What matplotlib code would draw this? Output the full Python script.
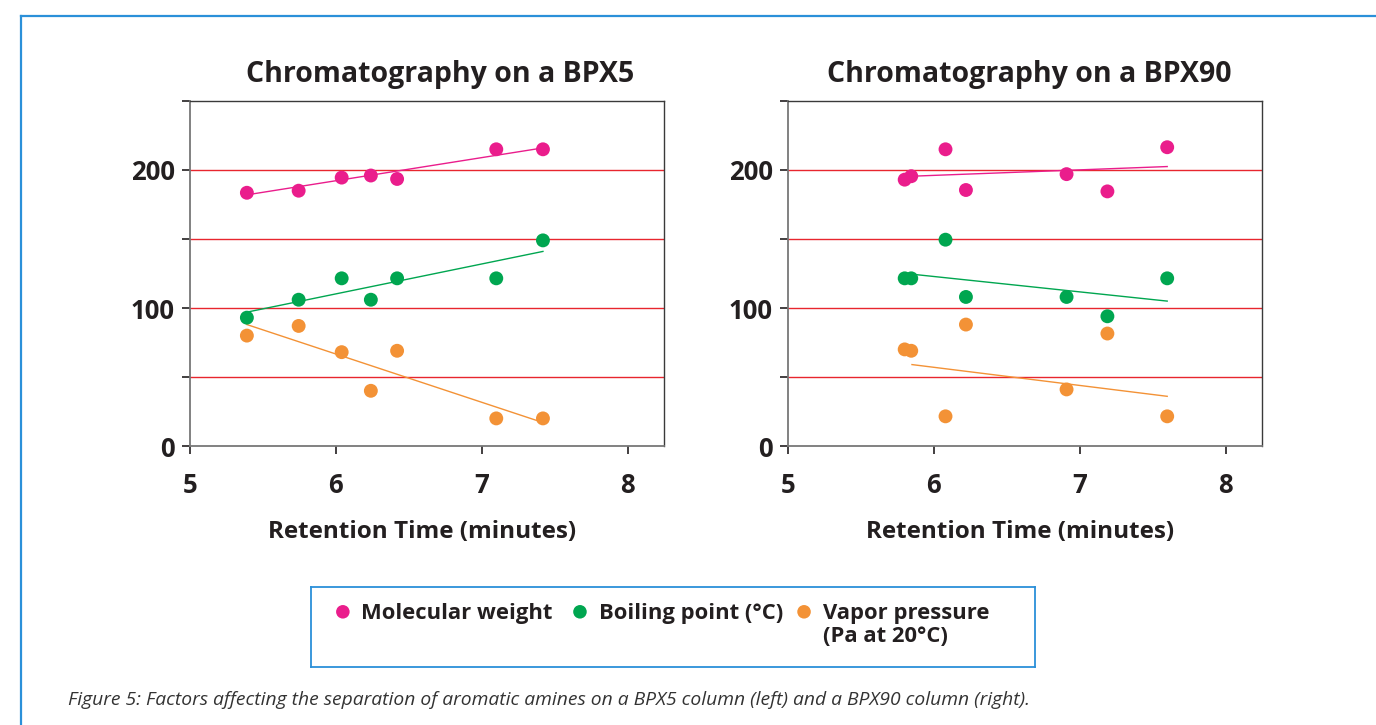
import matplotlib.pyplot as plt
from matplotlib.lines import Line2D

# retention times (minutes) and the three properties
bpx5_time = [5.39, 5.745, 6.04, 6.24, 6.42, 7.10, 7.42]
bpx5_mw = [183.5, 185, 194.5, 196, 193.5, 215, 215]
bpx5_bp = [93, 106, 121.5, 106, 121.5, 121.5, 149]
bpx5_vp = [80, 87, 68, 40, 69, 20, 20]

bpx90_time = [5.80, 5.845, 6.08, 6.22, 6.91, 7.19, 7.60]
bpx90_mw = [193, 195.5, 215, 185.5, 197, 184.5, 216.5]
bpx90_bp = [121.5, 121.5, 149.5, 108, 108, 94, 121.5]
bpx90_vp = [70, 69, 21.5, 88, 41, 81.5, 21.5]

# trend line end values (start, end)
bpx5_trend_x = [5.39, 7.42]
bpx5_trend_mw = [182, 216]
bpx5_trend_bp = [97, 141]
bpx5_trend_vp = [88, 17]

bpx90_trend_x = [5.85, 7.6]
bpx90_trend_mw = [195.5, 202.5]
bpx90_trend_bp = [124.5, 105]
bpx90_trend_vp = [59, 36]

titles = ['Chromatography on a BPX5', 'Chromatography on a BPX90']
series_labels = ['Molecular weight', 'Boiling point (°C)', 'Vapor pressure\n(Pa at 20°C)']
caption = ('Figure 5: Factors affecting the separation of aromatic amines on a BPX5 '
           'column (left) and a BPX90 column (right).')

colors = ['#ea1d8c', '#00a650', '#f39236']
grid_color = '#e8262e'
blue = '#2b90d9'
txt = '#231f20'

plt.rcParams['font.family'] = ['Open Sans', 'DejaVu Sans']

fig = plt.figure(figsize=(13.76, 7.25), dpi=100)

panels = [
    (bpx5_time, [bpx5_mw, bpx5_bp, bpx5_vp], bpx5_trend_x,
     [bpx5_trend_mw, bpx5_trend_bp, bpx5_trend_vp]),
    (bpx90_time, [bpx90_mw, bpx90_bp, bpx90_vp], bpx90_trend_x,
     [bpx90_trend_mw, bpx90_trend_bp, bpx90_trend_vp]),
]
lefts = [190 / 1376, 788 / 1376]
title_x = [0.527, 0.51]

for i, (t, ys, tx, tys) in enumerate(panels):
    ax = fig.add_axes([lefts[i], 1 - 446 / 725, 474 / 1376, 345 / 725])
    for g in [50, 100, 150, 200]:
        ax.axhline(g, color=grid_color, linewidth=1.0, zorder=1)
    for y, ty, c in zip(ys, tys, colors):
        ax.plot(tx, ty, color=c, linewidth=1.0, zorder=2)
        ax.scatter(t, y, s=100, color=c, edgecolors='none', zorder=3)
    ax.set_xlim(5, 8.25)
    ax.set_ylim(0, 250)
    ax.set_xticks([5, 6, 7, 8])
    ax.set_yticks([0, 50, 100, 150, 200, 250])
    ax.set_yticklabels(['0', '', '100', '', '200', ''])
    ax.tick_params(axis='both', direction='out', length=6, width=1.2,
                   colors=txt, labelsize=18.5)
    ax.tick_params(axis='x', pad=13)
    ax.tick_params(axis='y', pad=5)
    for lab in ax.get_xticklabels() + ax.get_yticklabels():
        lab.set_fontweight('bold')
    for s in ['left', 'bottom']:
        ax.spines[s].set_color('#777777')
        ax.spines[s].set_linewidth(1.3)
    for s in ['top', 'right']:
        ax.spines[s].set_color('#3a3a3a')
        ax.spines[s].set_linewidth(1.0)
    ax.set_title(titles[i], fontsize=20.5, fontweight='bold', color=txt,
                 pad=14, x=title_x[i])
    ax.set_xlabel('Retention Time (minutes)', fontsize=17.5, fontweight='bold',
                  color=txt, labelpad=13)
    ax.xaxis.set_label_coords(0.49, -0.215)

# legend box
lax = fig.add_axes([311 / 1376, 1 - 667 / 725, 724 / 1376, 80 / 725])
lax.set_xlim(0, 1)
lax.set_ylim(0, 1)
lax.set_xticks([])
lax.set_yticks([])
for s in lax.spines.values():
    s.set_color(blue)
    s.set_linewidth(1.3)
mark_x = [0.044, 0.3715, 0.681]
text_x = [0.069, 0.398, 0.707]
for mx, tx_, c, lab in zip(mark_x, text_x, colors, series_labels):
    lax.scatter([mx], [0.69], s=95, color=c, edgecolors='none')
    lax.text(tx_, 0.80, lab, fontsize=15.8, fontweight='bold', color=txt,
             va='top', ha='left', linespacing=1.1)

# caption
fig.text(68 / 1376, 1 - 700 / 725, caption, fontsize=13.9, style='italic',
         color='#333333', va='center', ha='left')

# outer frame (top and left edges)
fig.add_artist(Line2D([21 / 1376, 1], [1 - 15.5 / 725, 1 - 15.5 / 725],
                      color=blue, linewidth=1.6))
fig.add_artist(Line2D([21 / 1376, 21 / 1376], [0, 1 - 15.5 / 725],
                      color=blue, linewidth=1.6))

plt.savefig('out.png', dpi=100)
